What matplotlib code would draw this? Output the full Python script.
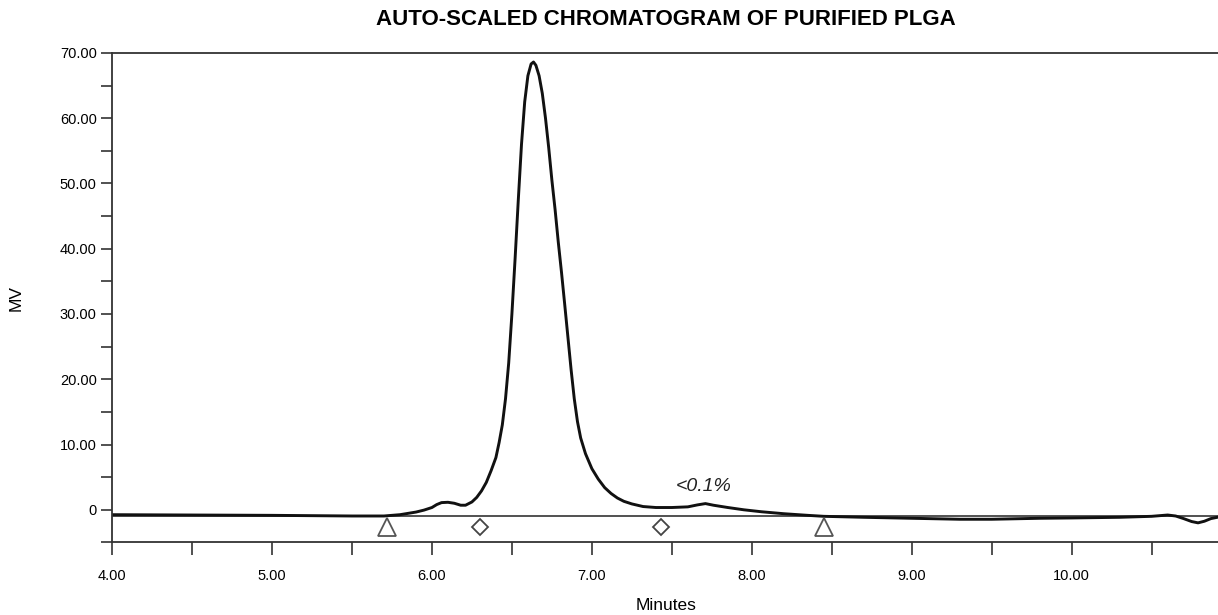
import matplotlib
matplotlib.use('Agg')
import matplotlib.pyplot as plt
from matplotlib.ticker import MultipleLocator, FuncFormatter

# Chromatogram trace (minutes, mV)
minutes = [4.0, 4.5, 5.0, 5.5, 5.7, 5.8, 5.9, 5.95, 6.0, 6.03, 6.06, 6.1, 6.14,
           6.18, 6.21, 6.25, 6.28, 6.31, 6.34, 6.37, 6.40, 6.42, 6.44, 6.46,
           6.48, 6.50, 6.52, 6.54, 6.56, 6.58, 6.60, 6.62, 6.635, 6.65, 6.67,
           6.69, 6.71, 6.73, 6.75, 6.77, 6.79, 6.81, 6.83, 6.85, 6.87, 6.89,
           6.91, 6.93, 6.96, 7.0, 7.04, 7.08, 7.12, 7.16, 7.2, 7.25, 7.32, 7.4,
           7.5, 7.6, 7.66, 7.71, 7.76, 7.85, 7.95, 8.06, 8.2, 8.35, 8.45, 8.7,
           9.0, 9.3, 9.5, 9.8, 10.0, 10.3, 10.5, 10.6, 10.65, 10.7, 10.75,
           10.79, 10.83, 10.87, 10.93]
mv = [-0.75, -0.8, -0.85, -0.95, -0.95, -0.75, -0.35, -0.05, 0.35, 0.8, 1.1,
      1.15, 1.0, 0.7, 0.7, 1.2, 1.9, 2.9, 4.2, 6.0, 8.0, 10.3, 13.0, 17.0,
      22.5, 30.0, 38.5, 47.5, 56.0, 62.5, 66.5, 68.3, 68.6, 68.1, 66.5, 63.8,
      60.0, 55.5, 50.5, 46.0, 41.0, 36.4, 31.5, 26.5, 21.5, 17.0, 13.5, 11.0,
      8.6, 6.3, 4.7, 3.4, 2.5, 1.8, 1.3, 0.9, 0.5, 0.35, 0.35, 0.45, 0.75,
      0.95, 0.7, 0.35, 0.0, -0.3, -0.6, -0.85, -1.0, -1.15, -1.3, -1.45,
      -1.45, -1.3, -1.25, -1.15, -1.0, -0.8, -0.95, -1.35, -1.8, -2.0, -1.75,
      -1.35, -1.05]

baseline_mv = -0.9
peak_limits = [5.72, 8.45]     # triangles
peak_splits = [6.30, 7.43]     # diamonds
marker_mv = -2.7
note_text = "<0.1%"
note_pos = (7.70, 3.6)

plt.rcParams['font.family'] = ['Liberation Sans', 'DejaVu Sans']

fig = plt.figure(figsize=(12.18, 6.15), dpi=100)
ax = fig.add_axes([0.092, 0.118, 0.91, 0.796])

ax.axhline(baseline_mv, color='#222222', lw=1.1, zorder=1)
ax.plot(minutes, mv, color='#111111', lw=2.1, zorder=2)

ax.plot(peak_limits, [marker_mv] * 2, linestyle='none', marker='^', ms=13,
        mfc='white', mec='#555555', mew=1.3, zorder=3)
ax.plot(peak_splits, [marker_mv] * 2, linestyle='none', marker='D', ms=8,
        mfc='white', mec='#444444', mew=1.3, zorder=3)

ax.text(note_pos[0], note_pos[1], note_text, style='italic', fontsize=14,
        ha='center', va='center', color='#222222')

ax.set_xlim(4.0, 10.93)
ax.set_ylim(-5, 70)

ax.xaxis.set_major_locator(MultipleLocator(1.0))
ax.xaxis.set_minor_locator(MultipleLocator(0.5))
ax.xaxis.set_major_formatter(FuncFormatter(lambda v, p: "%.2f" % v))
ax.yaxis.set_major_locator(MultipleLocator(10))
ax.yaxis.set_minor_locator(MultipleLocator(5))
ax.yaxis.set_major_formatter(
    FuncFormatter(lambda v, p: "0" if abs(v) < 1e-9 else "%.2f" % v))

ax.tick_params(axis='x', which='both', direction='out', length=9, width=1.2,
               color='#333333', labelsize=10.5, pad=10)
ax.tick_params(axis='y', which='both', direction='out', length=8, width=1.2,
               color='#333333', labelsize=10.5, pad=3)

for side in ['left', 'bottom', 'top']:
    ax.spines[side].set_linewidth(1.3)
    ax.spines[side].set_color('#333333')
ax.spines['right'].set_visible(False)

ax.set_xlabel("Minutes", fontsize=12.5, labelpad=11)
ax.set_ylabel("MV", fontsize=12.5, labelpad=26)
ax.set_title("AUTO-SCALED CHROMATOGRAM OF PURIFIED PLGA",
             fontweight='bold', fontsize=16, pad=20)

plt.savefig("out.png", dpi=100)
plt.close()
